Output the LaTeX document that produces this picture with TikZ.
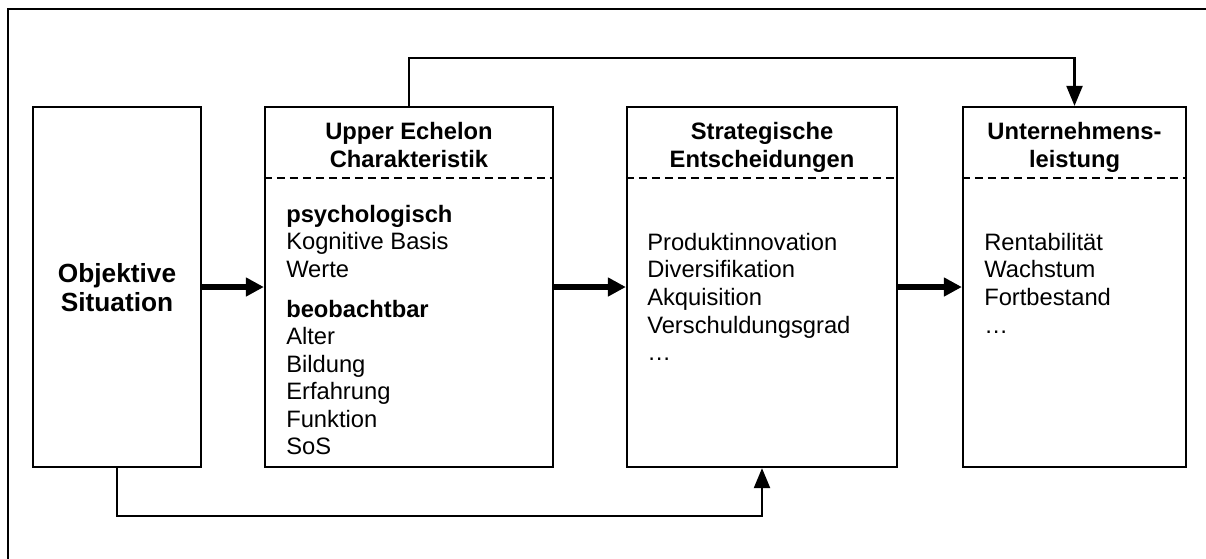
\documentclass[tikz,border=0pt]{standalone}
\usepackage{fontspec}
\setmainfont{Liberation Sans}
\usetikzlibrary{arrows.meta}
\begin{document}
\begin{tikzpicture}[x=0.75pt,y=-0.75pt,
  box/.style={draw,line width=1.7pt,inner sep=0pt,minimum height=270pt},
  title/.style={font=\fontsize{17.8pt}{21pt}\selectfont\bfseries,anchor=base,inner sep=0pt},
  bigtitle/.style={font=\fontsize{19.7pt}{23pt}\selectfont\bfseries,anchor=base,inner sep=0pt},
  item/.style={font=\fontsize{17.8pt}{21pt}\selectfont,anchor=base west,inner sep=0pt},
  sep/.style={line width=1.2pt,dash pattern=on 6pt off 3.75pt},
  flow/.style={line width=4.6pt,-{Triangle[length=13.5pt,width=13.5pt]}},
  link/.style={line width=1.7pt,-{Triangle[length=15pt,width=12pt]}},
  frame/.style={line width=1.7pt}]
\useasboundingbox (0,0) rectangle (1206,558);

% outer frame (only left and top edges lie inside the page)
\coordinate (fbl) at (8,560);
\coordinate (ftl) at (8,9);
\coordinate (ftr) at (1208,9);
\draw[frame] (fbl) -- (ftl) -- (ftr);

% the four boxes
\node[box,minimum width=126pt]    (obj) at (117,287) {};
\node[box,minimum width=216pt]    (uec) at (409,287) {};
\node[box,minimum width=202.5pt]  (str) at (762,287) {};
\node[box,minimum width=167.25pt] (unt) at (1074.5,287) {};

% box titles
\node[bigtitle] (obj1) at (117,282) {Objektive};
\node[bigtitle] (obj2) at (117,311) {Situation};
\node[title] (uec1) at (409,139) {Upper Echelon};
\node[title] (uec2) at (409,167) {Charakteristik};
\node[title] (str1) at (762,139) {Strategische};
\node[title] (str2) at (762,167) {Entscheidungen};
\node[title] (unt1) at (1074.5,139) {Unternehmens-};
\node[title] (unt2) at (1074.5,167) {leistung};

% dashed separators under the titles
\foreach \b in {uec,str,unt}
  \draw[sep] ([yshift=-54pt]\b.north west) -- ([yshift=-54pt]\b.north east);

% box contents
\node[item] (u1) at (286,222) {\textbf{psychologisch}};
\node[item] (u2) at (286,249.5) {Kognitive Basis};
\node[item] (u3) at (286,277) {Werte};
\node[item] (u4) at (286,317) {\textbf{beobachtbar}};
\node[item] (u5) at (286,344.5) {Alter};
\node[item] (u6) at (286,372) {Bildung};
\node[item] (u7) at (286,399.5) {Erfahrung};
\node[item] (u8) at (286,427) {Funktion};
\node[item] (u9) at (286,454.5) {SoS};

\node[item] (s1) at (647,250) {Produktinnovation};
\node[item] (s2) at (647,277.7) {Diversifikation};
\node[item] (s3) at (647,305.4) {Akquisition};
\node[item] (s4) at (647,333.1) {Verschuldungsgrad};
\node[item] (s5) at (647,360.8) {…};

\node[item] (p1) at (984,250) {Rentabilität};
\node[item] (p2) at (984,277.7) {Wachstum};
\node[item] (p3) at (984,305.4) {Fortbestand};
\node[item] (p4) at (984,333.1) {…};

% main flow
\draw[flow] (obj) -- (uec);
\draw[flow] (uec) -- (str);
\draw[flow] (str) -- (unt);

% feedback links
\draw[link] (uec.north) -- ++(0,-48) -| (unt.north);
\draw[link] (obj.south) -- ++(0,48) -| (str.south);
\end{tikzpicture}
\end{document}
